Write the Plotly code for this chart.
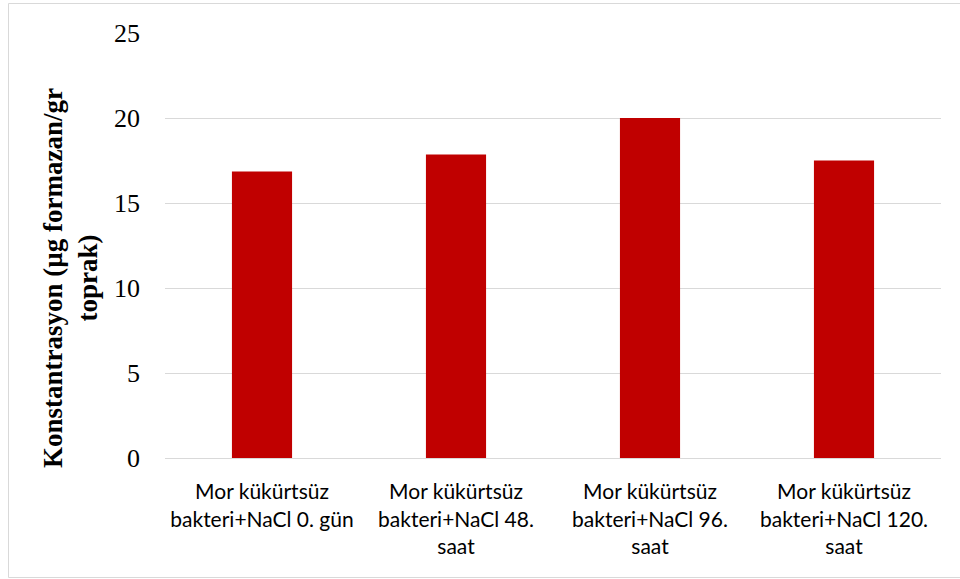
import plotly.graph_objects as go

categories = [
    "Mor kükürtsüz<br>bakteri+NaCl 0. gün",
    "Mor kükürtsüz<br>bakteri+NaCl 48.<br>saat",
    "Mor kükürtsüz<br>bakteri+NaCl 96.<br>saat",
    "Mor kükürtsüz<br>bakteri+NaCl 120.<br>saat",
]
values = [16.85, 17.85, 20.0, 17.5]
y_ticks = [0, 5, 10, 15, 20, 25]
y_title = "<b>Konstantrasyon (µg formazan/gr<br>toprak)</b>"

W, H = 960, 579
L, R, T, B = 165, 19, 33, 121
pw, ph = W - L - R, H - T - B

SERIF = "Liberation Serif, Times New Roman, serif"
SANS = "Lato, Carlito, Calibri, sans-serif"

fig = go.Figure(
    go.Bar(
        x=categories,
        y=values,
        marker=dict(color="#c00000", line=dict(width=0)),
        width=0.31,
    )
)

# thin outer frame around the chart area
fig.add_shape(
    type="rect", xref="paper", yref="paper",
    x0=(8.5 - L) / pw, x1=(W + 2 - L) / pw,
    y0=(H - 577.5 - B) / ph, y1=(H - 3.5 - B) / ph,
    line=dict(color="#d9d9d9", width=1), fillcolor="rgba(0,0,0,0)", layer="below",
)

# rotated y-axis title, placed slightly below the plot's vertical centre
fig.add_annotation(
    text=y_title, textangle=-90, showarrow=False,
    xref="paper", yref="paper",
    x=(70 - L) / pw, y=(H - B - 278) / ph,
    xanchor="center", yanchor="middle",
    font=dict(family=SERIF, size=27, color="#000000"),
)

fig.update_layout(
    width=W, height=H,
    margin=dict(l=L, r=R, t=T, b=B, pad=0),
    paper_bgcolor="white", plot_bgcolor="white",
    showlegend=False,
    xaxis=dict(
        showgrid=False, ticks="", showline=True, linecolor="#d9d9d9", linewidth=1,
        tickfont=dict(family=SANS, size=21, color="#000000"),
        ticklabelstandoff=15,
    ),
    yaxis=dict(
        range=[0, 25], tickvals=y_ticks, showgrid=True, gridcolor="#d9d9d9", gridwidth=1,
        zeroline=False, showline=False, ticks="",
        tickfont=dict(family=SERIF, size=26, color="#000000"),
        ticklabelstandoff=24,
    ),
)

fig.write_html("out.html")
